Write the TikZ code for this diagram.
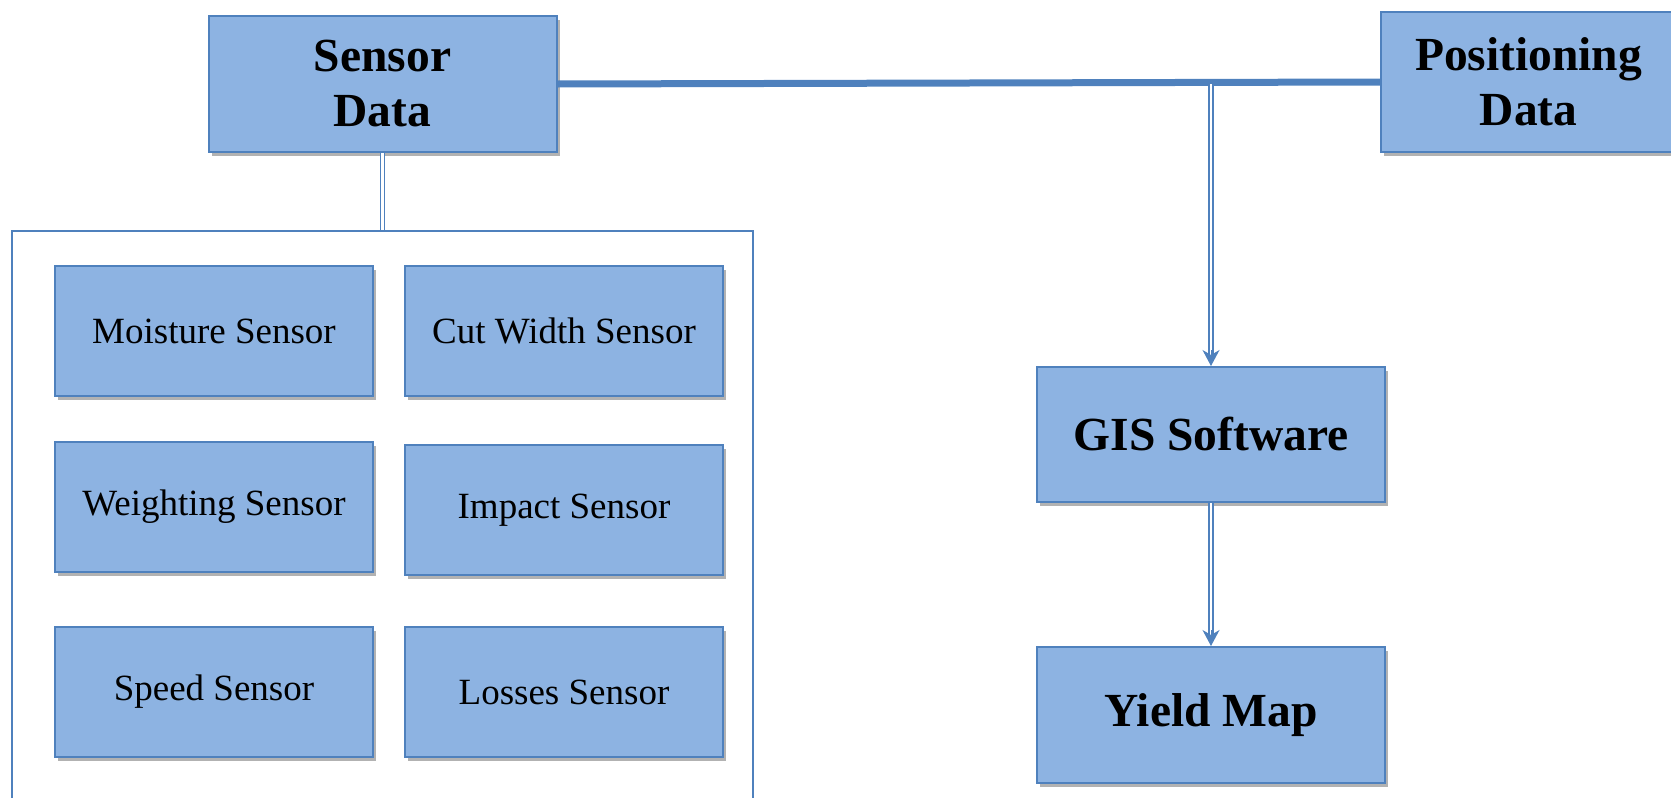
\documentclass[tikz,border=0pt]{standalone}
\usepackage{fontspec}
\setmainfont{Liberation Serif}
\usetikzlibrary{arrows.meta,shadows}
\definecolor{boxFill}{HTML}{8DB3E2}
\definecolor{boxLine}{HTML}{4F81BD}
\tikzstyle{yieldmap}=[%
	blueBox/.style={%
		draw=boxLine,
		fill=boxFill,
		line width=2pt,
		drop shadow={shadow xshift=3pt, shadow yshift=-4pt, opacity=0.3, fill=black},
		inner sep=0pt
	},%
	sensorBox/.style={%
		blueBox,
		minimum width=318pt,
		minimum height=130pt,
		font=\fontsize{37}{40}\selectfont
	},%
	titleBox/.style={%
		blueBox,
		minimum width=348pt,
		minimum height=136pt,
		align=center,
		font=\fontsize{47.5}{55}\selectfont\bfseries
	},%
	doubleLink/.style={%
		draw=boxLine,
		double=white,
		line width=1.5pt,
		double distance=2.5pt
	},%
	linkTip/.style={%
		draw=boxLine,
		fill=boxLine,
		line width=1pt,
		-{Stealth[length=16pt, width=17pt, inset=5pt]}
	}
]

\begin{document}
\begin{tikzpicture}[
	x=1pt,
	y=-1pt,
	yieldmap
]
	\useasboundingbox (0,0) rectangle (1671,798);

	\node[titleBox] (sensor) at (382.5,84) {Sensor\\Data};
	\node[titleBox, minimum width=295pt, minimum height=140pt] (position) at (1528.5,82) {Positioning\\Data};
	\node[titleBox, minimum height=135pt] (gis) at (1211,434.5) {GIS Software};
	\node[titleBox] (yield) at (1211,715) {Yield Map};

	% frame round the sensors
	\node[draw=boxLine, line width=2pt, minimum width=741pt, minimum height=600pt, anchor=north west] (group) at (11,230) {};

	\node[sensorBox] (moisture) at (214,331) {Moisture Sensor};
	\node[sensorBox] (cutwidth) at (564,331) {Cut Width Sensor};
	\node[sensorBox] (weighting) at (214,507) {Weighting Sensor};
	\node[sensorBox] (impact) at (564,510) {Impact Sensor};
	\node[sensorBox] (speed) at (214,692) {Speed Sensor};
	\node[sensorBox] (losses) at (564,692) {Losses Sensor};

	\draw[draw=boxLine, line width=7pt] (sensor.east) -- (position.west);
	\coordinate (join) at (gis.north |- sensor.east);

	\draw[doubleLink] (sensor.south) -- (sensor.south |- group.north);
	\draw[doubleLink, shorten >=8pt] (join) -- (gis.north);
	\draw[linkTip] ([yshift=16pt]gis.north) -- (gis.north);
	\draw[doubleLink, shorten >=8pt] (gis.south) -- (yield.north);
	\draw[linkTip] ([yshift=16pt]yield.north) -- (yield.north);
\end{tikzpicture}
\end{document}
